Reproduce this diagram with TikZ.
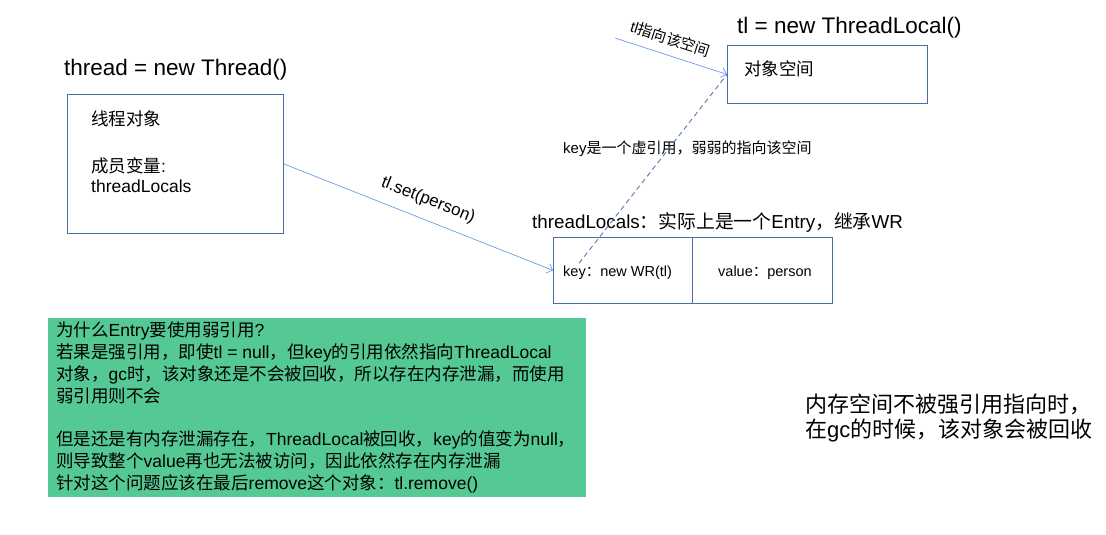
\documentclass[tikz,border=0pt]{standalone}
\usepackage{fontspec}
\setmainfont{Liberation Sans}
\newfontfamily\cjkfont{Noto Sans CJK SC}
\newfontfamily\latinfont{Liberation Sans}
\usetikzlibrary{arrows.meta,calc}

% Han characters and full-width punctuation switch to the CJK family automatically
\XeTeXinterchartokenstate=1
\newXeTeXintercharclass\hanclass
\newcount\hanidx
\newcommand\markhan[2]{\hanidx=#1\relax
  \loop \XeTeXcharclass\hanidx=\hanclass
  \ifnum\hanidx<#2\relax \advance\hanidx by 1 \repeat}
\markhan{"4E00}{"9FFF}
\markhan{"3000}{"303F}
\markhan{"FF00}{"FFEF}
\XeTeXinterchartoks 0 \hanclass = {\cjkfont}
\XeTeXinterchartoks 4095 \hanclass = {\cjkfont}
\XeTeXinterchartoks \hanclass 0 = {\latinfont}
\XeTeXinterchartoks 4095 0 = {\latinfont}

\definecolor{boxblue}{HTML}{4A6DA7}
\definecolor{linkblue}{HTML}{6A9BE8}
\definecolor{dashblue}{HTML}{5577B5}
\definecolor{notegreen}{HTML}{55C994}

\newcommand\fsz[2]{\fontsize{#1}{#2}\selectfont}

\begin{document}
\begin{tikzpicture}[x=1pt,y=-1pt,
  frame/.style={draw=boxblue, line width=0.8pt, inner sep=0, anchor=north west},
  txt/.style={inner sep=0, text=black},
  title/.style={txt, anchor=base west, font=\fsz{22.5}{27}},
  link/.style={draw=linkblue, line width=0.7pt, -{Straight Barb[length=5pt,width=10pt]}},
  weak/.style={draw=dashblue, line width=0.9pt, dash pattern=on 5pt off 3.5pt},
  linklabel/.style={txt, sloped, midway}
]
\useasboundingbox (0,0) rectangle (1106,535);

% thread object
\node[title] (threadtitle) at (64,75) {thread = new Thread()};
\node[frame, minimum width=216, minimum height=139] (thread) at (67,94) {};
\node[txt, anchor=north west, align=left, font=\fsz{17.5}{20}] (threadtext) at (91,111)
  {线程对象\\[27pt]成员变量:\\threadLocals};

% ThreadLocal object
\node[title] (tltitle) at (737,34) {tl = new ThreadLocal()};
\node[frame, minimum width=200, minimum height=58] (obj) at (727,45) {};
\node[txt, anchor=base west, font=\fsz{17.5}{20}] (objtext) at (744,75) {对象空间};

% entry inside threadLocals
\node[title, font=\fsz{18.8}{23}] (entrytitle) at (532,228) {threadLocals：实际上是一个Entry，继承WR};
\node[frame, minimum width=139, minimum height=66] (keycell) at (553,237) {};
\node[frame, minimum width=140, minimum height=66] (valcell) at (692,237) {};
\node[txt, anchor=base west, font=\fsz{14.5}{17}] (keytext) at (563,276) {key：new WR(tl)};
\node[txt, anchor=base west, font=\fsz{14.5}{17}] (valtext) at (718,276) {value：person};

\node[txt, anchor=base west, font=\fsz{15}{17}] (weaklabel) at (563,153) {key是一个虚引用，弱弱的指向该空间};

% references
\coordinate (tlref) at (615,38);
\draw[link] (tlref) -- (obj.west)
  node[linklabel, pos=0.45, above=9pt, font=\fsz{15}{17}] {tl指向该空间};
\draw[link] (thread.east) -- (keycell.west)
  node[linklabel, pos=0.51, above=11pt, font=\fsz{17}{20}] {tl.set(person)};
\draw[weak] ($(keytext.north west)+(16,-2)$) -- (obj.west);

% explanation note
\node[fill=notegreen, inner sep=0, anchor=north west, minimum width=538, minimum height=179] (note) at (48,318) {};
\node[txt, anchor=north west, align=left, font=\fsz{17.5}{21.8}] (notetext) at (56,322)
  {为什么Entry要使用弱引用?\\
   若果是强引用，即使tl = null，但key的引用依然指向ThreadLocal\\
   对象，gc时，该对象还是不会被回收，所以存在内存泄漏，而使用\\
   弱引用则不会\\[21.8pt]
   但是还是有内存泄漏存在，ThreadLocal被回收，key的值变为null，\\
   则导致整个value再也无法被访问，因此依然存在内存泄漏\\
   针对这个问题应该在最后remove这个对象：tl.remove()};

% remark on the right
\node[txt, anchor=north west, align=left, font=\fsz{22}{25}] (remark) at (805,394)
  {内存空间不被强引用指向时，\\在gc的时候，该对象会被回收};
\end{tikzpicture}
\end{document}
